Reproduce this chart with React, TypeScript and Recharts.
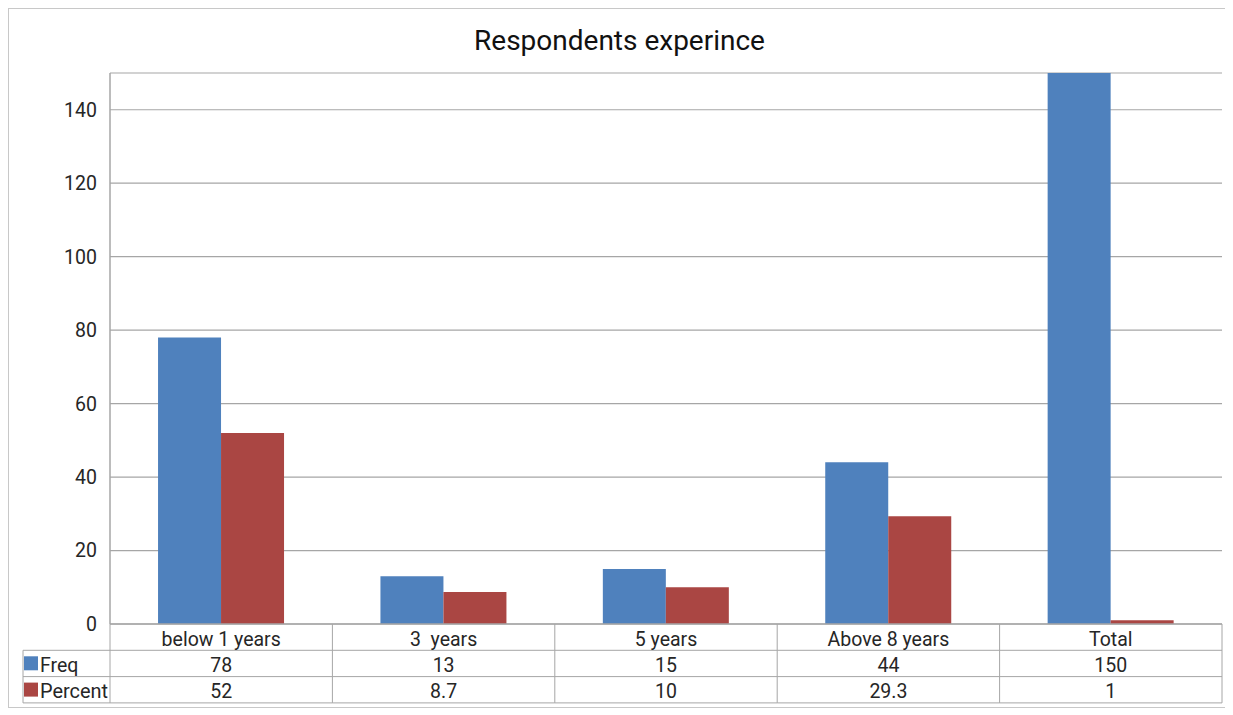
import { BarChart, Bar, XAxis, YAxis, CartesianGrid } from "recharts";

const categories = ["below 1 years", "3  years", "5 years", "Above 8 years", "Total"];
const freq = [78, 13, 15, 44, 150];
const percent = [52, 8.7, 10, 29.3, 1];
const yTicks = [0, 20, 40, 60, 80, 100, 120, 140];

const BLUE = "#4f81bd";
const RED = "#aa4643";
const LINE = "#a6a6a6";
const TEXT = "#262626";
const FONT = "Roboto, 'Noto Sans', sans-serif";

const data = categories.map((name, i) => ({
  name,
  freq: freq[i],
  percent: percent[i],
}));

const CHART_W = 1221;
const CHART_H = 698;
const MARGIN = { top: 64, right: 8, bottom: 3, left: 0 };
const Y_W = 101;
const BAND = (CHART_W - MARGIN.right - Y_W) / categories.length;
const ROW = 26.3;
const LEGEND_W = 87;
const FS = 19.5;
const TY = 2; // nudge table text down a little

// data table under the plot, drawn one column per category tick
const TableTick = (props: any) => {
  const { x, y, payload } = props;
  const i = payload.index as number;
  const left = x - BAND / 2;
  const right = x + BAND / 2;
  const bottom = y + ROW * 3;
  return (
    <g fontFamily={FONT} fontSize={FS} fill={TEXT}>
      {i === 0 && (
        <g>
          <line x1={left} y1={y} x2={left} y2={bottom} stroke={LINE} />
          <line x1={left - LEGEND_W} y1={y + ROW} x2={left} y2={y + ROW} stroke={LINE} />
          <line x1={left - LEGEND_W} y1={y + ROW * 2} x2={left} y2={y + ROW * 2} stroke={LINE} />
          <line x1={left - LEGEND_W} y1={bottom} x2={left} y2={bottom} stroke={LINE} />
          <line x1={left - LEGEND_W} y1={y + ROW} x2={left - LEGEND_W} y2={bottom} stroke={LINE} />
          <rect x={left - LEGEND_W + 1} y={y + ROW + 6} width={14} height={14} fill={BLUE} />
          <text x={left - LEGEND_W + 17} y={y + ROW * 1.5 + TY} dominantBaseline="central" fill={TEXT}>
            Freq
          </text>
          <rect x={left - LEGEND_W + 1} y={y + ROW * 2 + 6} width={14} height={14} fill={RED} />
          <text
            x={left - LEGEND_W + 17}
            y={y + ROW * 2.5 + TY}
            dominantBaseline="central"
            fill={TEXT}
            textLength={68}
            lengthAdjust="spacingAndGlyphs"
          >
            Percent
          </text>
        </g>
      )}
      <line x1={right} y1={y} x2={right} y2={bottom} stroke={LINE} />
      <line x1={left} y1={y + ROW} x2={right} y2={y + ROW} stroke={LINE} />
      <line x1={left} y1={y + ROW * 2} x2={right} y2={y + ROW * 2} stroke={LINE} />
      <line x1={left} y1={bottom} x2={right} y2={bottom} stroke={LINE} />
      <text
        x={x}
        y={y + ROW * 0.5 + TY}
        textAnchor="middle"
        dominantBaseline="central"
        fill={TEXT}
        style={{ whiteSpace: "pre" }}
      >
        {payload.value}
      </text>
      <text x={x} y={y + ROW * 1.5 + TY} textAnchor="middle" dominantBaseline="central" fill={TEXT}>
        {freq[i]}
      </text>
      <text x={x} y={y + ROW * 2.5 + TY} textAnchor="middle" dominantBaseline="central" fill={TEXT}>
        {percent[i]}
      </text>
    </g>
  );
};

export default function App() {
  return (
    <div
      style={{
        width: CHART_W,
        height: CHART_H,
        border: "1px solid #c8c8c8",
        position: "relative",
        background: "#fff",
      }}
    >
      <div
        style={{
          position: "absolute",
          top: 15,
          left: 0,
          width: "100%",
          textAlign: "center",
          fontFamily: FONT,
          fontSize: 28,
          color: "#111",
        }}
      >
        Respondents experince
      </div>
      <BarChart
        width={CHART_W}
        height={CHART_H}
        data={data}
        margin={MARGIN}
        barCategoryGap="21.6%"
        barGap={0}
      >
        <CartesianGrid vertical={false} stroke={LINE} strokeWidth={1.2} />
        <YAxis
          width={Y_W}
          domain={[0, 150]}
          ticks={yTicks}
          allowDataOverflow
          tickLine={false}
          axisLine={{ stroke: LINE, strokeWidth: 1.5 }}
          tick={{ fontFamily: FONT, fontSize: FS, fill: TEXT, dx: -5 }}
        />
        <XAxis
          dataKey="name"
          height={80}
          tickLine={false}
          tickSize={0}
          tickMargin={0}
          interval={0}
          axisLine={{ stroke: LINE, strokeWidth: 1.5 }}
          tick={<TableTick />}
        />
        <Bar dataKey="freq" fill={BLUE} isAnimationActive={false} />
        <Bar dataKey="percent" fill={RED} isAnimationActive={false} />
      </BarChart>
    </div>
  );
}
